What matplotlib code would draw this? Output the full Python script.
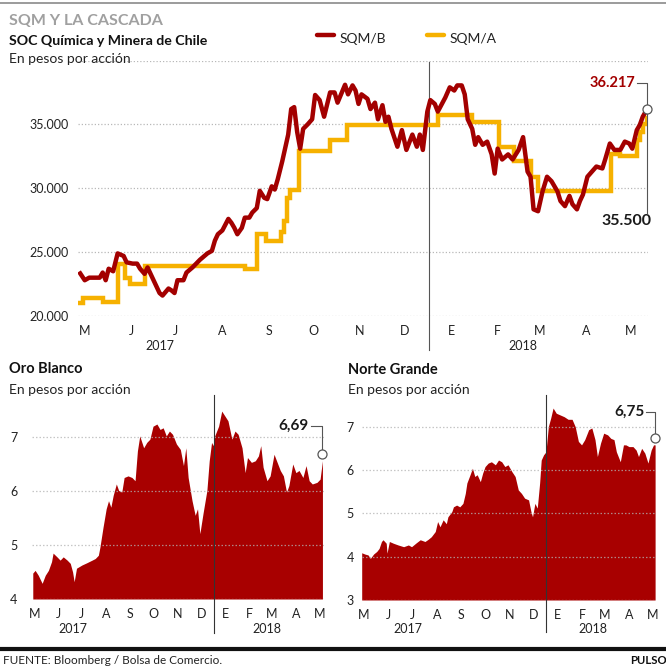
import numpy as np
import pandas as pd
import matplotlib
matplotlib.use("Agg")
import matplotlib.pyplot as plt
import matplotlib.dates as mdates
from matplotlib.lines import Line2D
from matplotlib.transforms import blended_transform_factory

plt.rcParams['font.family'] = ['Lato', 'DejaVu Sans']

# ---------------- DATA (x = days since 1 May 2017) ----------------
sqmb_days = [12, 15, 18, 22, 25, 27, 29, 31, 34, 37, 41, 43, 47, 50, 52, 55, 57, 59, 62, 65,
             67, 71, 73, 75, 77, 81, 83, 87, 92, 97, 100, 102, 104, 107, 111, 113, 115, 117, 120, 122,
             125, 127, 130, 132, 135, 137, 140, 142, 144, 147, 151, 153, 155, 157, 159, 161, 164, 167, 169, 172,
             175, 179, 182, 184, 189, 191, 194, 196, 198, 200, 204, 206, 209, 211, 214, 216, 218, 220, 224, 227,
             230, 234, 237, 239, 241, 244, 246, 249, 251, 256, 259, 262, 264, 267, 269, 271, 274, 276, 278, 281,
             284, 287, 289, 291, 294, 298, 301, 305, 308, 311, 313, 315, 318, 321, 324, 327, 331, 333, 336, 339,
             341, 344, 346, 348, 351, 354, 357, 361, 363, 366, 369, 373, 376, 379, 381, 384, 386, 388, 391]
sqmb_vals = [23330, 22800, 23000, 23000, 23000, 23400, 22800, 23700, 23500, 24900, 24700, 24200, 24100, 24100, 23700, 23300, 23800, 23300, 22550, 21800,
             21600, 22150, 22000, 21800, 22800, 22800, 23400, 23800, 24400, 24900, 25100, 25900, 26400, 26700, 27600, 27300, 26900, 26400, 26900, 27700,
             27700, 28100, 28450, 29800, 29250, 29150, 30150, 29900, 30700, 32100, 34200, 36200, 36350, 34400, 33100, 34650, 35000, 35400, 37300, 36900,
             35600, 37500, 37500, 36700, 38100, 37350, 38050, 37650, 36600, 37350, 37000, 36200, 36700, 35400, 36500, 35200, 35600, 34650, 33250, 34550,
             33000, 34200, 33250, 34200, 33000, 36000, 36900, 36600, 36000, 37100, 37900, 37650, 38050, 38050, 37350, 35400, 34650, 33400, 34000, 33400,
             33650, 32650, 31150, 33100, 32250, 32650, 32250, 33000, 34000, 31300, 30900, 28350, 28200, 29750, 30900, 30550, 29750, 29000, 28600, 29400,
             28750, 28350, 29000, 29500, 30900, 31300, 31700, 31550, 32300, 33500, 33000, 33000, 33650, 33500, 33100, 34550, 34950, 35600, 36217]

sqma_days = [12, 14, 27, 37, 42, 45, 55, 122, 130, 136, 146, 148, 150, 152, 158, 179, 190, 251, 274,
             292, 302, 313, 318, 367, 373, 384, 386, 388, 391]
sqma_vals = [21000, 21400, 21100, 24100, 23000, 22500, 23900, 23700, 26400, 25900, 26600, 27400, 29200, 29900, 32900, 33800, 34950, 35700, 35200,
             33250, 32100, 30900, 29750, 32700, 32500, 33800, 34400, 35000, 35500]

oro_days = [13, 16, 20, 25, 29, 33, 37, 39, 44, 48, 52, 57, 61, 64, 66, 69, 76, 82, 89, 93,
            97, 99, 103, 107, 110, 113, 116, 120, 123, 127, 130, 135, 140, 144, 147, 150, 155, 159, 163, 167,
            172, 176, 180, 184, 188, 192, 197, 202, 206, 209, 212, 217, 221, 224, 227, 231, 236, 239, 242, 244,
            246, 251, 255, 259, 263, 268, 272, 276, 281, 285, 288, 293, 298, 302, 305, 308, 313, 317, 322, 326,
            330, 334, 338, 341, 346, 350, 354, 359, 363, 367, 371, 377, 381, 384]
oro_vals = [4.48, 4.53, 4.44, 4.29, 4.44, 4.53, 4.69, 4.85, 4.78, 4.72, 4.78, 4.72, 4.66, 4.50, 4.32, 4.57, 4.63, 4.67, 4.72, 4.75,
            4.81, 4.96, 5.33, 5.67, 5.82, 5.70, 5.92, 6.13, 6.01, 5.98, 6.25, 6.28, 6.25, 6.19, 6.74, 7.02, 6.80, 6.90, 6.96, 7.20,
            7.24, 7.14, 7.17, 7.02, 7.11, 7.05, 6.87, 6.77, 6.47, 6.80, 6.25, 5.82, 5.55, 5.67, 5.21, 5.58, 6.01, 6.56, 6.90, 6.84,
            7.02, 7.20, 7.48, 7.39, 7.30, 6.96, 7.11, 7.05, 6.80, 6.34, 6.62, 6.53, 6.56, 6.65, 6.84, 6.44, 6.19, 6.28, 6.68, 6.53,
            6.38, 6.28, 5.98, 6.10, 6.50, 6.34, 6.38, 6.25, 6.47, 6.19, 6.13, 6.16, 6.22, 6.56]

norte_days = [12, 16, 20, 23, 27, 31, 34, 37, 39, 43, 44, 47, 52, 58, 65, 71, 75, 81, 86, 92,
              96, 100, 105, 108, 111, 115, 119, 121, 126, 128, 132, 136, 140, 143, 145, 149, 152, 155, 158, 162,
              165, 168, 172, 176, 181, 185, 189, 193, 197, 202, 206, 210, 214, 218, 223, 226, 228, 231, 234, 237,
              239, 242, 245, 248, 251, 254, 258, 263, 268, 273, 278, 282, 286, 290, 294, 299, 303, 307, 310, 314,
              318, 323, 327, 331, 334, 339, 343, 346, 350, 355, 359, 362, 366, 370, 374, 378, 381, 383]
norte_vals = [4.09, 4.06, 4.04, 3.96, 4.06, 4.12, 4.19, 4.35, 4.39, 4.31, 4.08, 4.35, 4.31, 4.27, 4.23, 4.27, 4.23, 4.32, 4.39, 4.35,
              4.40, 4.46, 4.58, 4.81, 4.69, 4.85, 4.76, 4.92, 5.04, 5.15, 5.19, 5.15, 5.23, 5.46, 5.70, 5.89, 6.04, 5.85, 5.89, 5.73,
              5.93, 6.08, 6.16, 6.19, 6.12, 6.23, 6.19, 6.08, 6.12, 5.96, 5.85, 5.54, 5.46, 5.35, 5.31, 5.04, 4.92, 5.23, 5.12, 5.70,
              6.23, 6.35, 6.42, 7.00, 7.20, 7.43, 7.31, 7.27, 7.23, 7.17, 7.17, 7.00, 6.66, 6.58, 6.70, 6.93, 6.97, 6.70, 6.31, 6.62,
              6.85, 6.81, 6.73, 6.70, 6.42, 6.19, 6.58, 6.58, 6.54, 6.54, 6.46, 6.31, 6.50, 6.39, 6.16, 6.46, 6.58, 6.58]

month_initials = ["E", "F", "M", "A", "M", "J", "J", "A", "S", "O", "N", "D"]  # Jan..Dec
top_yticks = [20000, 25000, 30000, 35000, 40000]
top_ylabels = ["20.000", "25.000", "30.000", "35.000", ""]
oro_yticks = [4, 5, 6, 7]
norte_yticks = [3, 4, 5, 6, 7]
last_sqmb, last_sqmb_label = 36217, "36.217"
last_sqma, last_sqma_label = 35500, "35.500"
last_oro, last_oro_label = 6.69, "6,69"
last_norte, last_norte_label = 6.75, "6,75"

# ---------------- STYLE ----------------
RED = "#a30000"
FILL = "#a80000"
YEL = "#f6b100"
GRID = "#b8b8b8"
TXT = "#222222"
W = H = 666
base = pd.Timestamp("2017-05-01")
def D(days):
    return base + pd.to_timedelta(np.atleast_1d(np.asarray(days, dtype=float)), unit="D")
def T(day):
    return base + pd.Timedelta(days=float(day))

fig = plt.figure(figsize=(6.66, 6.66), dpi=100)
fig.patch.set_facecolor("white")

def fx(x): return x / W
def fy(y): return 1 - y / H
def ax_rect(x0, y0, x1, y1):
    return [fx(x0), fy(y1), (x1 - x0) / W, (y1 - y0) / H]

def month_fmt(x, pos):
    return month_initials[mdates.num2date(x).month - 1]

def style_axis(ax, ypad, grid_on_top=False):
    for s in ax.spines.values():
        s.set_visible(False)
    ax.tick_params(axis="both", length=0, labelsize=9, colors=TXT)
    ax.tick_params(axis="x", pad=6.5)
    ax.tick_params(axis="y", pad=ypad)
    ax.xaxis.set_major_locator(mdates.MonthLocator(bymonthday=16))
    ax.xaxis.set_major_formatter(plt.FuncFormatter(month_fmt))
    if grid_on_top:
        ax.grid(axis="y", color="#b4b4b4", alpha=0.75, linestyle=(0, (1.2, 1.6)), linewidth=0.9)
        ax.set_axisbelow(False)
    else:
        ax.grid(axis="y", color=GRID, linestyle=(0, (1, 1.6)), linewidth=0.9)
        ax.set_axisbelow(True)

# ---------------- TOP CHART ----------------
ax1 = fig.add_axes(ax_rect(78, 60.5, 648, 316))
ax1.set_xlim(T(10.5), T(391.5))
ax1.set_ylim(20000, 40000)
style_axis(ax1, 7)
ax1.set_yticks(top_yticks)
ax1.set_yticklabels(top_ylabels)
ax1.plot(D(sqma_days), sqma_vals, color=YEL, lw=3.2, drawstyle="steps-post",
         solid_joinstyle="miter", zorder=3)
ax1.plot(D(sqmb_days), sqmb_vals, color=RED, lw=3.2, solid_joinstyle="round", zorder=4)
ax1.axvline(T(245), ymin=-0.135, ymax=0.995, color="#555555", lw=0.8, clip_on=False, zorder=2)

end1 = T(sqmb_days[-1])
ax1.plot([T(sqmb_days[-1] - 7), end1, end1], [38200, 38200, last_sqmb], color="#555555", lw=0.8,
         clip_on=False, zorder=5)
ax1.plot([end1, end1], [last_sqmb, 28050], color="#555555", lw=0.8, clip_on=False, zorder=5)
ax1.plot([end1], [last_sqmb], marker="o", ms=6.5, mfc="white", mec="#555555", mew=0.9,
         clip_on=False, zorder=6)
ax1.annotate(last_sqmb_label, xy=(T(sqmb_days[-1] - 8), 38200), xytext=(0, 0),
             textcoords="offset points", ha="right", va="center", fontsize=10.5,
             fontweight="bold", color=RED)
ax1.annotate(last_sqma_label, xy=(end1, 27400), xytext=(3, 0), textcoords="offset points",
             ha="right", va="center", fontsize=11.5, fontweight="bold", color="#1a1a1a")

bt1 = blended_transform_factory(ax1.transData, fig.transFigure)
ax1.text(T(65), fy(350), "2017", transform=bt1, ha="center", va="baseline", fontsize=9, color=TXT)
ax1.text(T(308), fy(350), "2018", transform=bt1, ha="center", va="baseline", fontsize=9, color=TXT)

# ---------------- ORO BLANCO ----------------
ax2 = fig.add_axes(ax_rect(32, 404.6, 324, 599))
ax2.set_xlim(T(12), T(386))
ax2.set_ylim(4, 7.6)
style_axis(ax2, 10.5, grid_on_top=True)
ax2.set_yticks(oro_yticks)
ax2.fill_between(D(oro_days), oro_vals, 4, color=FILL, lw=0, zorder=1)
ax2.axvline(T(245), ymin=-0.175, ymax=1.05, color="#333333", lw=0.8, clip_on=False, zorder=4)
end2 = T(oro_days[-1])
ax2.plot([T(oro_days[-1] - 15), end2, end2], [7.2, 7.2, last_oro], color="#555555", lw=0.8,
         clip_on=False, zorder=5)
ax2.plot([end2], [last_oro], marker="o", ms=6.5, mfc="white", mec="#555555", mew=0.9,
         clip_on=False, zorder=6)
ax2.annotate(last_oro_label, xy=(T(oro_days[-1] - 18), 7.2), ha="right", va="center",
             fontsize=11, fontweight="bold", color="#1a1a1a")
bt2 = blended_transform_factory(ax2.transData, fig.transFigure)
ax2.text(T(65), fy(633), "2017", transform=bt2, ha="center", va="baseline", fontsize=9, color=TXT)
ax2.text(T(313), fy(633), "2018", transform=bt2, ha="center", va="baseline", fontsize=9, color=TXT)

# ---------------- NORTE GRANDE ----------------
ax3 = fig.add_axes(ax_rect(361.7, 405, 655.5, 600))
ax3.set_xlim(T(12), T(383.5))
ax3.set_ylim(3, 7.5)
style_axis(ax3, 5.5, grid_on_top=True)
ax3.set_yticks(norte_yticks)
ax3.fill_between(D(norte_days), norte_vals, 3, color=FILL, lw=0, zorder=1)
ax3.axvline(T(245), ymin=-0.165, ymax=1.05, color="#333333", lw=0.8, clip_on=False, zorder=4)
end3 = T(norte_days[-1])
ax3.plot([T(norte_days[-1] - 12), end3, end3], [7.34, 7.34, last_norte], color="#555555", lw=0.8,
         clip_on=False, zorder=5)
ax3.plot([end3], [last_norte], marker="o", ms=6.5, mfc="white", mec="#555555", mew=0.9,
         clip_on=False, zorder=6)
ax3.annotate(last_norte_label, xy=(T(norte_days[-1] - 13), 7.34), ha="right", va="center",
             fontsize=11, fontweight="bold", color="#1a1a1a")
bt3 = blended_transform_factory(ax3.transData, fig.transFigure)
ax3.text(T(70), fy(633), "2017", transform=bt3, ha="center", va="baseline", fontsize=9, color=TXT)
ax3.text(T(304), fy(633), "2018", transform=bt3, ha="center", va="baseline", fontsize=9, color=TXT)

# ---------------- TEXTS / DECOR ----------------
fig.add_artist(Line2D([0, 1], [fy(3), fy(3)], color="#8a8a8a", lw=1.2))
fig.add_artist(Line2D([0, 1], [fy(648.5), fy(648.5)], color="#111111", lw=3.0))

fig.text(fx(9), fy(25), "SQM Y LA CASCADA", fontsize=11.5, fontweight="bold", color="#a0a0a0", va="baseline")
fig.text(fx(9), fy(45), "SOC Química y Minera de Chile", fontsize=10.2, fontweight="bold", color="#111111", va="baseline")
fig.text(fx(9), fy(63), "En pesos por acción", fontsize=10, color=TXT, va="baseline")

fig.add_artist(Line2D([fx(317), fx(334)], [fy(35), fy(35)], color=RED, lw=3.2, solid_capstyle="round"))
fig.text(fx(340), fy(43), "SQM/B", fontsize=10, color=TXT, va="baseline")
fig.add_artist(Line2D([fx(427), fx(444)], [fy(35), fy(35)], color=YEL, lw=3.2, solid_capstyle="round"))
fig.text(fx(450), fy(43), "SQM/A", fontsize=10, color=TXT, va="baseline")

fig.text(fx(9), fy(373), "Oro Blanco", fontsize=10.5, fontweight="bold", color="#111111", va="baseline")
fig.text(fx(9), fy(394), "En pesos por acción", fontsize=10, color=TXT, va="baseline")
fig.text(fx(348), fy(374), "Norte Grande", fontsize=10.5, fontweight="bold", color="#111111", va="baseline")
fig.text(fx(348), fy(394), "En pesos por acción", fontsize=10, color=TXT, va="baseline")

fig.text(fx(3), fy(664), "FUENTE: Bloomberg / Bolsa de Comercio.", fontsize=8.5, color=TXT, va="baseline")
fig.text(fx(630), fy(664), "PULSO", fontsize=8.2, fontweight="bold", color="#111111", va="baseline")

fig.savefig("out.png", dpi=100, facecolor="white")
